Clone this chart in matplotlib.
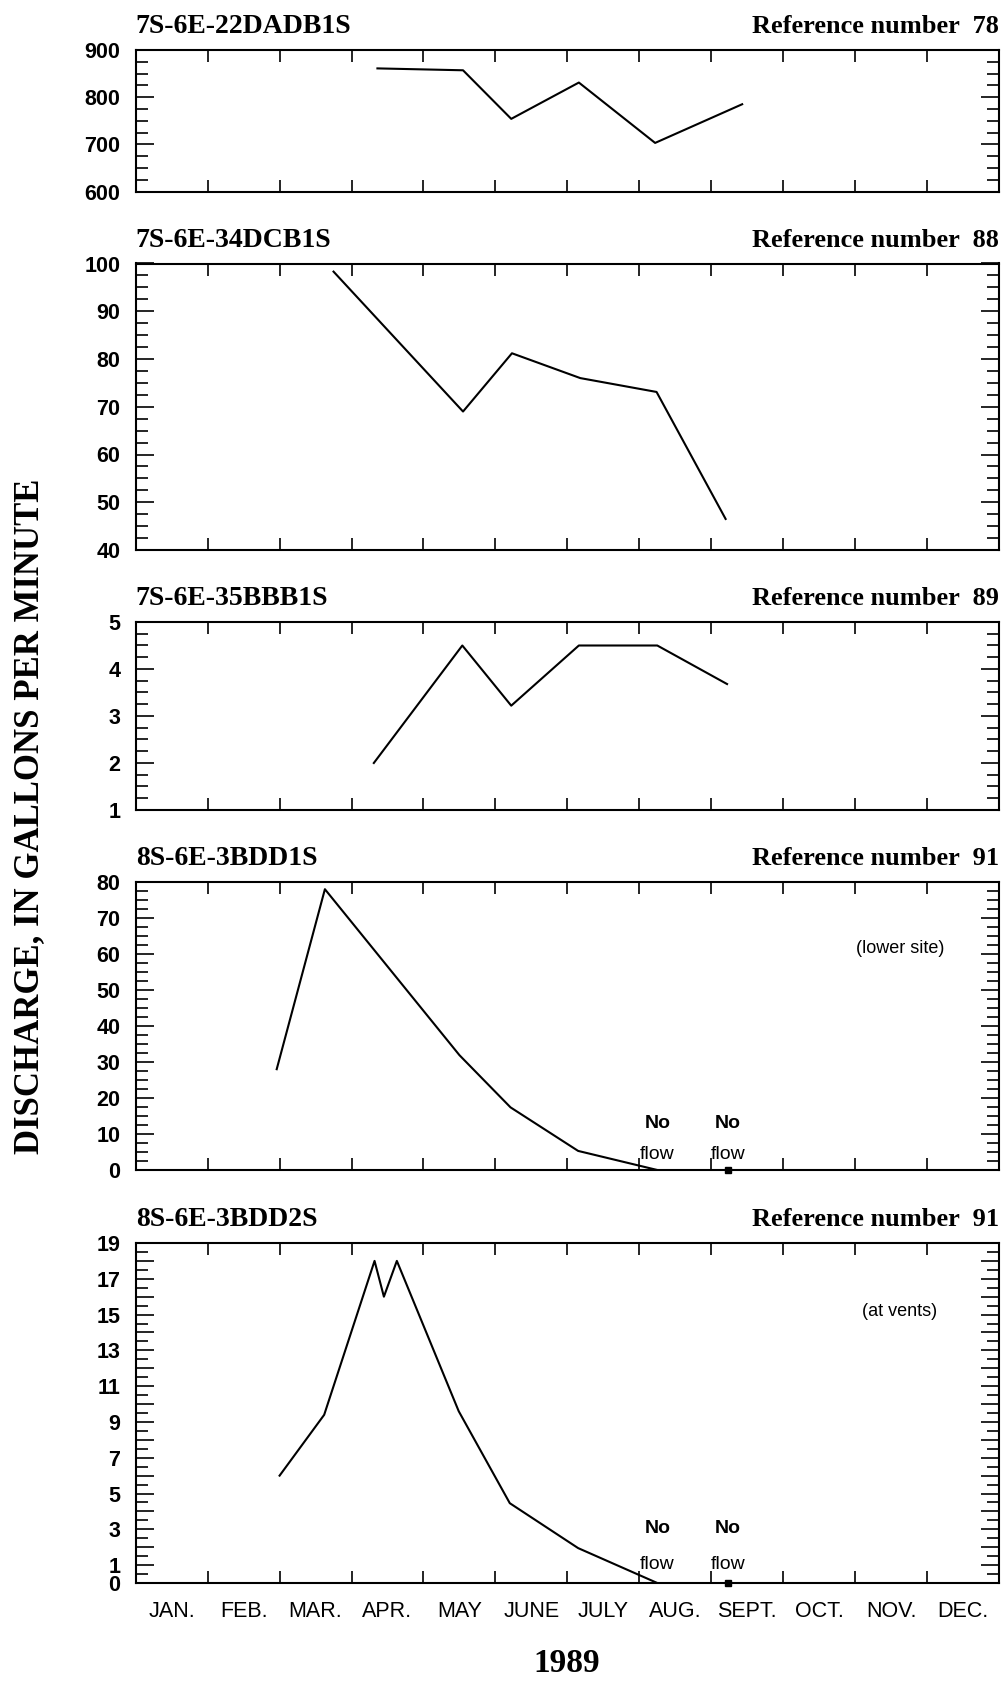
import numpy as np
import matplotlib.pyplot as plt
from matplotlib.ticker import MultipleLocator, FixedLocator, FixedFormatter, NullFormatter

# month labels (centred in each month), 1989
months = ['JAN.', 'FEB.', 'MAR.', 'APR.', 'MAY', 'JUNE', 'JULY', 'AUG.', 'SEPT.', 'OCT.', 'NOV.', 'DEC.']

sites = ['7S-6E-22DADB1S', '7S-6E-34DCB1S', '7S-6E-35BBB1S', '8S-6E-3BDD1S', '8S-6E-3BDD2S']
refs = [78, 88, 89, 91, 91]
notes = [None, None, None, '(lower site)', '(at vents)']

# time in months since Jan 1, discharge in gal/min
t_22dadb = [3.36, 4.55, 5.22, 6.16, 7.22, 8.43]
q_22dadb = [861, 857, 754, 831, 703, 785]

t_34dcb = [2.75, 4.55, 5.23, 6.18, 7.24, 8.2]
q_34dcb = [98.3, 69, 81.2, 76, 73.1, 46.5]

t_35bbb = [3.31, 4.54, 5.22, 6.16, 7.25, 8.22]
q_35bbb = [2.0, 4.5, 3.22, 4.5, 4.5, 3.68]

t_3bdd1 = [1.96, 2.63, 4.50, 5.21, 6.15, 7.25]
q_3bdd1 = [28, 78, 31.9, 17.4, 5.3, 0]

t_3bdd2 = [2.0, 2.62, 3.32, 3.45, 3.63, 4.49, 5.2, 6.15, 7.25]
q_3bdd2 = [6, 9.4, 18, 16, 18, 9.6, 4.46, 1.95, 0]

noflow_t = [7.25, 8.23]

series = [(t_22dadb, q_22dadb), (t_34dcb, q_34dcb), (t_35bbb, q_35bbb),
          (t_3bdd1, q_3bdd1), (t_3bdd2, q_3bdd2)]
ylims = [(600, 900), (40, 100), (1, 5), (0, 80), (0, 19)]
majors = [100, 10, 1, 10, 1]
minors = [25, 2.5, 0.25, 2.5, 0.5]

W, H = 1008, 1684
boxes = [(50, 191.5), (263.5, 550), (622, 810), (882, 1170), (1243, 1583)]
left, right = 135.7, 999

narrow = ['Liberation Sans Narrow', 'Liberation Sans', 'DejaVu Sans']
serif = ['Liberation Serif', 'DejaVu Serif']

fig = plt.figure(figsize=(W / 100, H / 100), dpi=100)

for i in range(5):
    top, bot = boxes[i]
    ax = fig.add_axes([left / W, 1 - bot / H, (right - left) / W, (bot - top) / H])
    t, q = series[i]
    ax.plot(t, q, color='black', lw=1.5)
    ax.set_xlim(0, 12)
    ax.set_ylim(*ylims[i])
    for s in ax.spines.values():
        s.set_linewidth(1.5)

    ax.xaxis.set_major_locator(MultipleLocator(1))
    ax.xaxis.set_major_formatter(NullFormatter())
    ax.tick_params(axis='x', which='major', direction='in', top=True, bottom=True,
                   length=8.5, width=1.2)
    if i == 4:
        ax.xaxis.set_minor_locator(FixedLocator(np.arange(12) + 0.5))
        ax.xaxis.set_minor_formatter(FixedFormatter(months))
        ax.tick_params(axis='x', which='minor', length=0, pad=13)
        for lab in ax.get_xticklabels(minor=True):
            lab.set_family(narrow)
            lab.set_fontsize(15.5)
    else:
        ax.tick_params(axis='x', which='minor', bottom=False, top=False)

    ax.yaxis.set_major_locator(MultipleLocator(majors[i]))
    ax.yaxis.set_minor_locator(MultipleLocator(minors[i]))
    ax.tick_params(axis='y', which='major', direction='in', left=True, right=True,
                   length=13, width=1.2, pad=11)
    ax.tick_params(axis='y', which='minor', direction='in', left=True, right=True,
                   length=8.5, width=1.2)
    if i == 4:
        ax.yaxis.set_major_formatter(
            plt.FuncFormatter(lambda v, p: '%d' % v if (v == 0 or int(v) % 2 == 1) else ''))
    for lab in ax.get_yticklabels():
        lab.set_family(narrow)
        lab.set_fontweight('bold')
        lab.set_fontsize(15.5)

    ax.set_title(sites[i], loc='left', pad=12, fontsize=20, fontweight='bold', family=serif)
    ax.set_title('Reference number  %d' % refs[i], loc='right', pad=12, fontsize=19,
                 fontweight='bold', family=serif)

    if notes[i]:
        ax.text(0.885, 0.77 if i == 3 else 0.80, notes[i], transform=ax.transAxes,
                ha='center', va='center', fontsize=13, family=narrow)
    if i >= 3:
        ymax = ylims[i][1]
        for xn in noflow_t:
            ax.text(xn, ymax * 0.16, 'No', ha='center', va='center', fontsize=14,
                    fontweight='bold', family=narrow)
            ax.text(xn, ymax * 0.055, 'flow', ha='center', va='center', fontsize=14,
                    family=narrow)
        ax.plot([noflow_t[1]], [0], marker='s', ms=4, color='black', clip_on=False)

fig.text(30 / W, 1 - 816 / H, 'DISCHARGE, IN GALLONS PER MINUTE', rotation=90,
         ha='center', va='center', fontsize=25, fontweight='bold', family=serif)
fig.text(567 / W, 1 - 1664 / H, '1989', ha='center', va='center', fontsize=24,
         fontweight='bold', family=serif)

fig.savefig('out.png', dpi=100)
